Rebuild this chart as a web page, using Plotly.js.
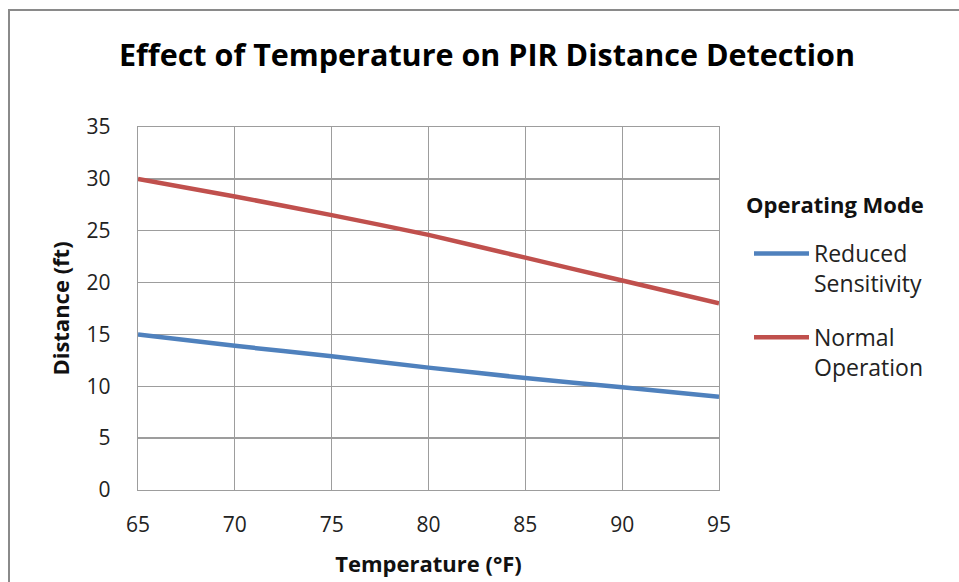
<!DOCTYPE html>
<html>
<head>
<meta charset="utf-8">
<script src="https://cdn.plot.ly/plotly-3.0.1.min.js"></script>
<style>
  html, body { margin: 0; padding: 0; background: #fff; overflow: hidden; }
  #chart { width: 959px; height: 582px; }
</style>
</head>
<body>
<div id="chart"></div>
<script>
const temperature = [65, 70, 75, 80, 85, 90, 95];
const reducedSensitivity = [15.0, 13.9, 12.9, 11.8, 10.8, 9.9, 9.0];
const normalOperation = [30.0, 28.3, 26.5, 24.6, 22.4, 20.2, 18.0];
const seriesNames = ['Reduced<br>Sensitivity', 'Normal<br>Operation'];
const xTicks = [65, 70, 75, 80, 85, 90, 95];
const yTicks = [0, 5, 10, 15, 20, 25, 30, 35];

const tickFont = { family: 'Open Sans, sans-serif', size: 21, color: '#222' };
const boldFont = { family: 'Open Sans, sans-serif', size: 22, color: '#111', weight: 'bold' };

const traces = [
  {
    x: temperature, y: reducedSensitivity, name: seriesNames[0],
    type: 'scatter', mode: 'lines', legendgroup: 'a',
    line: { color: '#4F81BD', width: 4.5, shape: 'spline', smoothing: 0.4 }
  },
  {
    x: temperature, y: normalOperation, name: seriesNames[1],
    type: 'scatter', mode: 'lines', legendgroup: 'b',
    line: { color: '#C0504D', width: 4.5, shape: 'spline', smoothing: 0.4 }
  }
];

const L = 138, R = 240, T = 127, B = 92;
const pw = 959 - L - R, ph = 582 - T - B;
const px2x = p => (p - L) / pw;
const px2y = p => (582 - B - p) / ph;

const layout = {
  width: 959, height: 582,
  margin: { l: L, r: R, t: T, b: B },
  paper_bgcolor: '#fff', plot_bgcolor: '#fff',
  title: {
    text: 'Effect of Temperature on PIR Distance Detection',
    font: { family: 'Open Sans, sans-serif', size: 30.5, color: '#000', weight: 'bold' },
    xref: 'container', x: 487 / 959, xanchor: 'center',
    yref: 'container', y: 1 - 55 / 582, yanchor: 'middle'
  },
  xaxis: {
    range: [65, 95], tickvals: xTicks, ticktext: xTicks.map(String),
    showgrid: true, gridcolor: '#9d9d9d', gridwidth: 1.3,
    showline: true, linecolor: '#9d9d9d', linewidth: 1.3, mirror: true,
    zeroline: false, ticks: '', ticklabelstandoff: 15,
    tickfont: tickFont,
    title: { text: 'Temperature (°F)', font: boldFont, standoff: 20 }
  },
  yaxis: {
    range: [0, 35], tickvals: yTicks, ticktext: yTicks.map(String),
    showgrid: true, gridcolor: '#9d9d9d', gridwidth: 1.3,
    showline: true, linecolor: '#9d9d9d', linewidth: 1.3, mirror: true,
    zeroline: false, ticks: '', ticklabelstandoff: 22,
    tickfont: tickFont,
    title: { text: 'Distance (ft)', font: boldFont, standoff: 10 }
  },
  showlegend: true,
  legend: {
    x: px2x(749), xanchor: 'left',
    y: px2y(232), yanchor: 'top',
    traceorder: 'grouped', tracegroupgap: 21,
    itemwidth: 55, valign: 'top',
    font: { family: 'Open Sans, sans-serif', size: 23, color: '#222' },
    bgcolor: 'rgba(0,0,0,0)'
  },
  annotations: [
    {
      text: 'Operating Mode', xref: 'paper', yref: 'paper',
      x: px2x(744), xanchor: 'left', y: px2y(204), yanchor: 'middle',
      showarrow: false, font: boldFont
    }
  ],
  shapes: [
    {
      type: 'rect', xref: 'paper', yref: 'paper', layer: 'above',
      x0: px2x(9), x1: px2x(1100), y0: px2y(700), y1: px2y(10),
      line: { color: '#8a8a8a', width: 2 }, fillcolor: 'rgba(0,0,0,0)'
    }
  ]
};

Plotly.newPlot('chart', traces, layout, { staticPlot: true, displayModeBar: false });
</script>
</body>
</html>
